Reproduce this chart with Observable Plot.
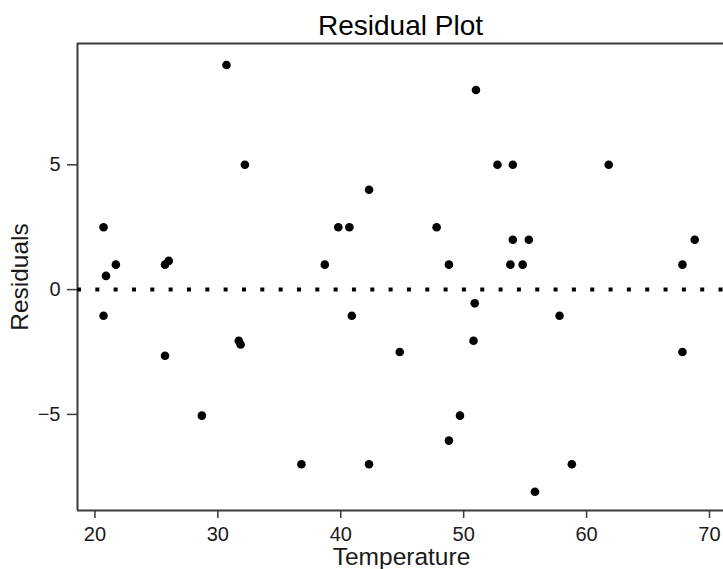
<!DOCTYPE html>
<html>
<head>
<meta charset="utf-8">
<script src="https://cdn.jsdelivr.net/npm/d3@7"></script>
<script src="https://cdn.jsdelivr.net/npm/@observablehq/plot@0.6"></script>
<style>
  html, body { margin: 0; padding: 0; background: #fff; }
  svg { display: block; }
</style>
</head>
<body>
<div id="chart"></div>
<script>
const temperature = [
  30.7, 32.2, 20.7, 20.9, 21.7, 25.7, 26.0, 38.7, 39.8, 40.7,
  51.0, 52.75, 54.0, 61.8, 42.3, 47.8, 48.8, 54.0, 55.3, 53.8, 54.8, 67.8, 68.8,
  20.7, 25.7, 28.7, 31.7, 31.85, 36.8, 40.9,
  50.9, 57.8, 50.8, 44.8, 67.8, 49.7, 48.8, 42.3, 58.8, 55.8
];
const residuals = [
  9.0, 5.0, 2.5, 0.55, 1.0, 1.0, 1.15, 1.0, 2.5, 2.5,
  8.0, 5.0, 5.0, 5.0, 4.0, 2.5, 1.0, 2.0, 2.0, 1.0, 1.0, 1.0, 2.0,
  -1.05, -2.65, -5.05, -2.05, -2.2, -7.0, -1.05,
  -0.55, -1.05, -2.05, -2.5, -2.5, -5.05, -6.05, -7.0, -7.0, -8.1
];
const xTicks = [20, 30, 40, 50, 60, 70];
const yTicks = [-5, 0, 5];
const titleText = "Residual Plot";
const xLabel = "Temperature";
const yLabel = "Residuals";

const data = temperature.map((t, i) => ({t, r: residuals[i]}));
const xDomain = [18.58, 71.14];
const yDomain = [-8.85, 9.86];
const axisColor = "#3a3a3a";
const font = "'Liberation Sans', Arial, sans-serif";

const chart = Plot.plot({
  width: 723,
  height: 569,
  marginLeft: 77,
  marginRight: 0,
  marginTop: 43,
  marginBottom: 59,
  style: {fontFamily: font, background: "#fff", color: "#1a1a1a"},
  x: {domain: xDomain},
  y: {domain: yDomain},
  marks: [
    Plot.axisX({ticks: xTicks, tickSize: 8, tickPadding: 8, fontSize: 20, stroke: axisColor, strokeWidth: 1.5, label: null}),
    Plot.axisY({ticks: yTicks, tickSize: 10, tickPadding: 7, fontSize: 20, stroke: axisColor, strokeWidth: 1.5, label: null}),
    Plot.ruleY([yDomain[0], yDomain[1]], {stroke: axisColor, strokeWidth: 2}),
    Plot.ruleX([xDomain[0]], {stroke: axisColor, strokeWidth: 2}),
    Plot.ruleY([0], {stroke: "#000", strokeWidth: 4, strokeDasharray: "4,14.33"}),
    Plot.dot(data, {x: "t", y: "r", r: 4.3, fill: "#000", stroke: null}),
    Plot.text([titleText], {frameAnchor: "top", dy: -9, lineAnchor: "bottom", textAnchor: "middle", fontSize: 28, fill: "#000"}),
    Plot.text([xLabel], {frameAnchor: "bottom", dy: 54, dx: 1, lineAnchor: "bottom", textAnchor: "middle", fontSize: 24.5, fill: "#1a1a1a"}),
    Plot.text([yLabel], {frameAnchor: "left", dx: -50, rotate: -90, lineAnchor: "bottom", textAnchor: "middle", fontSize: 24.5, fill: "#1a1a1a"})
  ]
});
document.getElementById("chart").appendChild(chart);
</script>
</body>
</html>
